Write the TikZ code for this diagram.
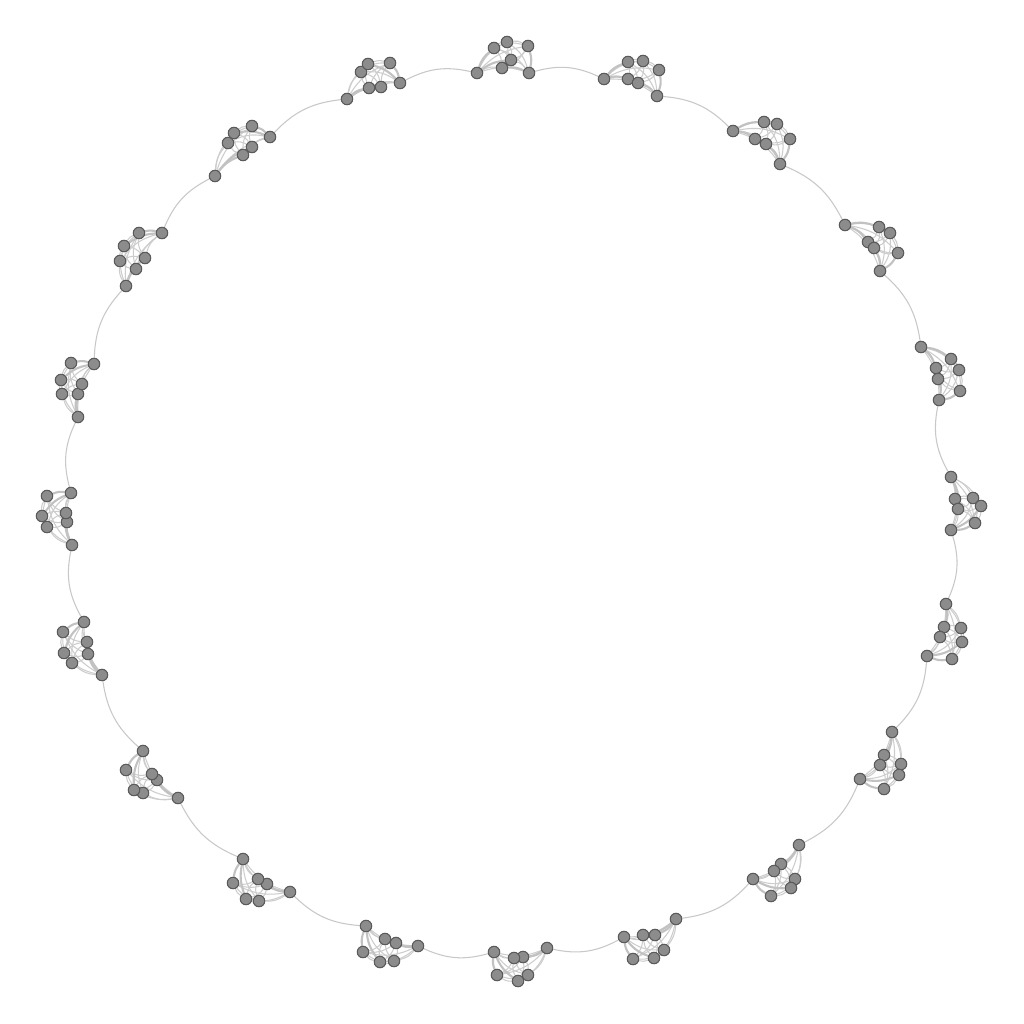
\documentclass[tikz,border=0pt]{standalone}
\definecolor{vfill}{HTML}{8C8C8C}
\definecolor{vline}{HTML}{5A5A5A}
\definecolor{egray}{HTML}{CDCDCD}
\definecolor{egray2}{HTML}{C2C2C2}
\definecolor{rgray}{HTML}{C8C8C8}
\pgfdeclarelayer{back}
\pgfdeclarelayer{bg}
\pgfsetlayers{back,bg,main}
\newcommand\mycluster[8]{%
  \node[vtx] (#1a) at (#2) {};
  \node[vtx] (#1b) at (#3) {};
  \node[vtx] (#1c) at (#4) {};
  \node[vtx] (#1d) at (#5) {};
  \node[vtx] (#1e) at (#6) {};
  \node[vtx] (#1f) at (#7) {};
  \node[vtx] (#1g) at (#8) {};
  \begin{pgfonlayer}{bg}
    \foreach \u/\v in {a/c,a/d,a/f,a/g,b/c,b/d,b/e,b/f,b/g,c/d,c/e,c/f,c/g,d/e,d/f,e/f,e/g}
      \draw[intra] (#1\u) to[bend left=18] (#1\v);
    \foreach \u/\v in {a/b,a/e,f/g,d/g}
      \draw[heavy] (#1\u) to[bend left=15] (#1\v);
  \end{pgfonlayer}
}
\begin{document}
\begin{tikzpicture}[x=0.1mm,y=-0.1mm,
  vtx/.style={circle,fill=vfill,draw=vline,line width=0.3pt,inner sep=0pt,minimum size=1.15mm},
  intra/.style={draw=egray,line width=0.3pt},
  heavy/.style={draw=egray2,line width=0.6pt},
  ring/.style={draw=rgray,line width=0.3pt}]
\begin{pgfonlayer}{back}
\fill[white] (0,0) rectangle (1024,1024);
\end{pgfonlayer}
\useasboundingbox (0,0) rectangle (1024,1024);
\mycluster{c1}{477,73}{494,48}{507,42}{528,46}{511,60}{502,68}{529,73}
\mycluster{c2}{604,79}{628,62}{643,61}{659,70}{628,79}{638,83}{657,96}
\mycluster{c3}{733,131}{764,122}{777,124}{790,139}{755,139}{766,144}{780,164}
\mycluster{c4}{845,225}{879,227}{890,233}{898,253}{868,242}{874,248}{880,271}
\mycluster{c5}{921,347}{951,359}{959,370}{960,391}{936,368}{938,379}{939,400}
\mycluster{c6}{951,477}{955,499}{973,498}{981,506}{958,509}{975,523}{951,530}
\mycluster{c7}{946,604}{944,627}{961,628}{962,642}{940,637}{952,659}{927,656}
\mycluster{c8}{892,732}{884,755}{901,764}{899,775}{880,765}{884,789}{860,779}
\mycluster{c9}{799,845}{781,864}{795,879}{791,888}{774,871}{771,896}{753,879}
\mycluster{c10}{676,919}{655,935}{664,950}{654,958}{643,935}{633,959}{624,937}
\mycluster{c11}{547,948}{523,957}{528,975}{518,981}{514,958}{497,975}{494,952}
\mycluster{c12}{418,946}{396,943}{394,961}{380,962}{385,939}{363,952}{366,926}
\mycluster{c13}{290,892}{267,884}{259,901}{246,899}{258,879}{233,883}{243,859}
\mycluster{c14}{178,798}{157,780}{143,793}{134,790}{152,774}{126,770}{143,751}
\mycluster{c15}{102,675}{88,654}{72,663}{64,653}{87,642}{63,632}{84,622}
\mycluster{c16}{72,545}{67,522}{47,527}{42,516}{66,513}{47,496}{71,493}
\mycluster{c17}{78,417}{78,394}{62,394}{61,380}{82,384}{71,363}{94,364}
\mycluster{c18}{126,286}{136,269}{120,261}{124,246}{145,258}{139,233}{162,233}
\mycluster{c19}{215,176}{243,155}{228,143}{234,133}{252,147}{252,126}{270,137}
\mycluster{c20}{347,99}{369,88}{361,72}{368,64}{381,87}{390,63}{400,83}
\begin{pgfonlayer}{bg}
\foreach \p/\q in {1/2,2/3,3/4,4/5,6/7,7/8,8/9,9/10,10/11,11/12,12/13,13/14,14/15,15/16,16/17,17/18,18/19,19/20,20/1}
  \draw[ring] (c\p g) to[bend left=20] (c\q a);
\draw[ring] (c5g) to[bend right=20] (c6a);
\end{pgfonlayer}
\end{tikzpicture}
\end{document}
